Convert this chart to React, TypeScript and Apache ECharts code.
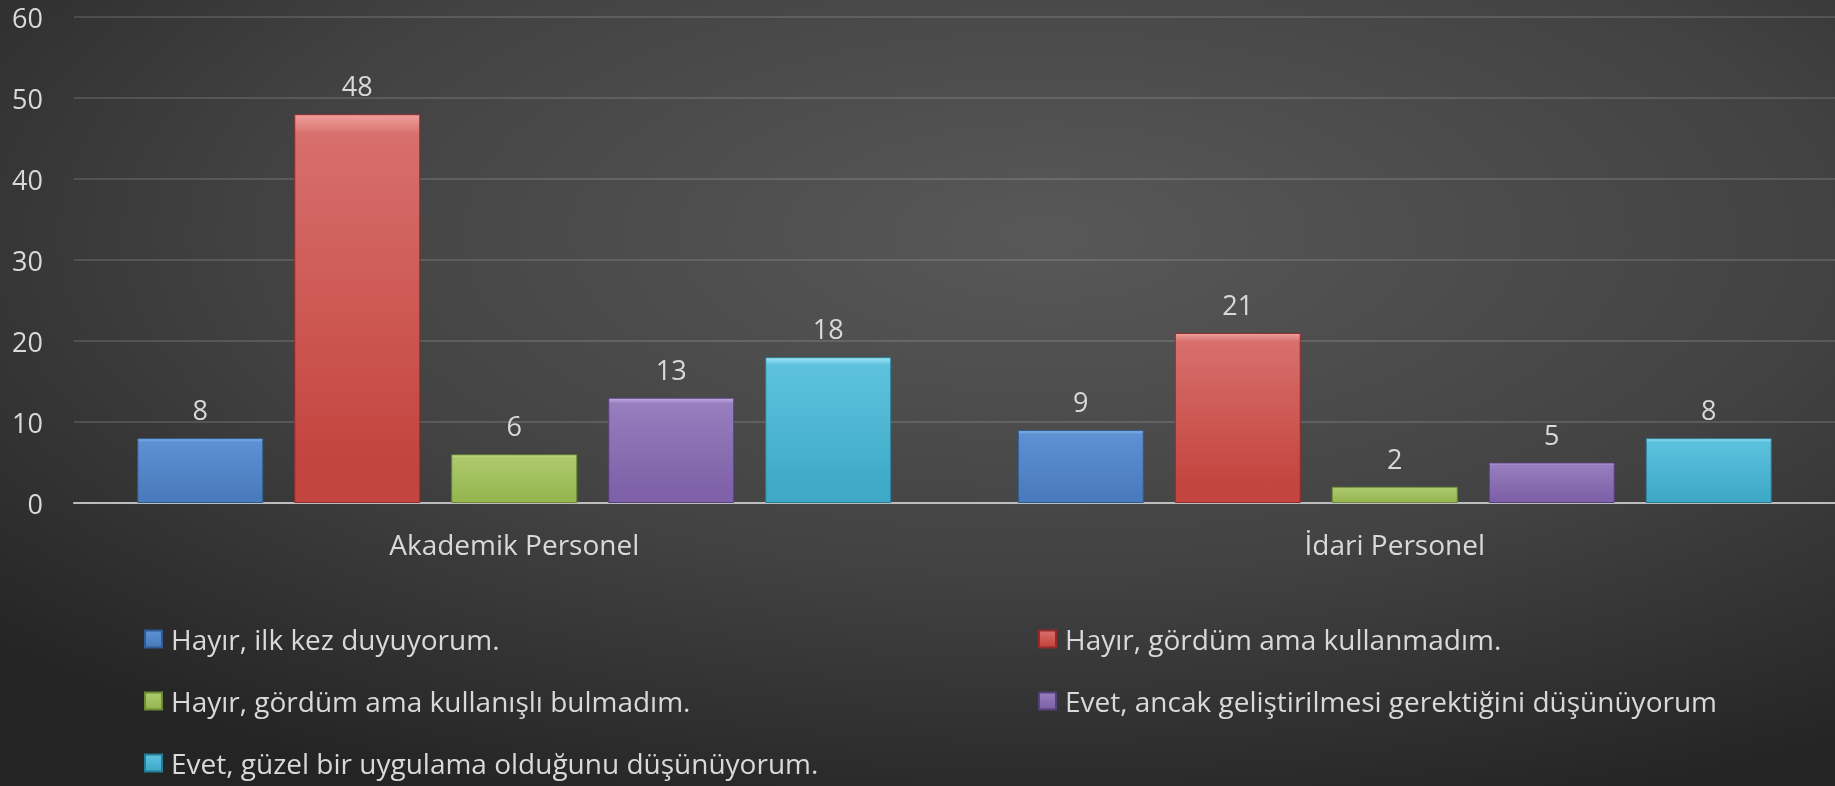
import React, { useEffect, useRef } from "react";
import * as echarts from "echarts";

const categories = ["Akademik Personel", "İdari Personel"];
const seriesNames = [
  "Hayır, ilk kez duyuyorum.",
  "Hayır, gördüm ama kullanmadım.",
  "Hayır, gördüm ama kullanışlı bulmadım.",
  "Evet, ancak geliştirilmesi gerektiğini düşünüyorum",
  "Evet, güzel bir uygulama olduğunu düşünüyorum.",
];
const hayirIlk = [8, 9];
const hayirKullanmadim = [48, 21];
const hayirKullanissiz = [6, 2];
const evetGelistirilmeli = [13, 5];
const evetGuzel = [18, 8];
const seriesValues = [hayirIlk, hayirKullanmadim, hayirKullanissiz, evetGelistirilmeli, evetGuzel];
const yTicks = [0, 10, 20, 30, 40, 50, 60];

const palettes = [
  ["#8cb6ec", "#5d91d3", "#4a7bbd", "#2f5a92"],
  ["#f0a09c", "#d76f6c", "#c4443f", "#8e2d2b"],
  ["#d3ea98", "#acca6c", "#97b752", "#6d8a36"],
  ["#c7aee6", "#977ebe", "#7e61a8", "#55407a"],
  ["#a2e6f6", "#5ec2de", "#3eaac8", "#267c95"],
];

const FONT = "'Open Sans', 'Noto Sans', sans-serif";
const TEXT = "#d9d9d9";

export default function App() {
  const ref = useRef<HTMLDivElement>(null);
  useEffect(() => {
    if (!ref.current) return;
    const chart = echarts.init(ref.current, null, { renderer: "svg" });
    const W = 1835;
    const H = 786;
    const option: any = {
      animation: false,
      textStyle: { fontFamily: FONT },
      graphic: [
        {
          type: "rect",
          z: -10,
          silent: true,
          shape: { x: 0, y: 0, width: W, height: H },
          style: {
            fill: new echarts.graphic.RadialGradient(0.57, 0.3, 0.78, [
              { offset: 0, color: "#585858" },
              { offset: 0.55, color: "#424242" },
              { offset: 1, color: "#242424" },
            ]),
          },
        },
      ],
      grid: { left: 74, right: 0, top: 17, bottom: 283, containLabel: false },
      legend: {
        left: 139,
        top: 618,
        width: 1800,
        orient: "horizontal",
        icon: "rect",
        itemWidth: 17,
        itemHeight: 17,
        itemGap: 30,
        selectedMode: false,
        textStyle: {
          color: TEXT,
          fontSize: 28,
          fontFamily: FONT,
          width: 837,
          lineHeight: 32,
          padding: [0, 0, 0, 4],
        },
        data: seriesNames,
      },
      xAxis: {
        type: "category",
        data: categories,
        axisLine: { show: true, lineStyle: { color: "#bdbdbd", width: 2 } },
        axisTick: { show: false },
        axisLabel: { color: TEXT, fontSize: 28, fontFamily: FONT, margin: 27 },
        splitLine: { show: false },
      },
      yAxis: {
        type: "value",
        min: yTicks[0],
        max: yTicks[yTicks.length - 1],
        interval: 10,
        axisLine: { show: false },
        axisTick: { show: false },
        axisLabel: { color: TEXT, fontSize: 27, fontFamily: FONT, margin: 31 },
        splitLine: { lineStyle: { color: "rgba(255,255,255,0.13)", width: 2 } },
      },
      series: seriesNames.map((name, i) => ({
        name,
        type: "bar",
        data: seriesValues[i],
        barWidth: 126,
        barGap: "24.6%",
        itemStyle: {
          color: new echarts.graphic.LinearGradient(0, 0, 0, 1, [
            { offset: 0, color: palettes[i][0] },
            { offset: 0.05, color: palettes[i][1] },
            { offset: 0.9, color: palettes[i][2] },
            { offset: 1, color: palettes[i][2] },
          ]),
          borderColor: palettes[i][3],
          borderWidth: 1,
        },
        label: {
          show: true,
          position: "top",
          distance: 15,
          color: TEXT,
          fontSize: 27,
          fontFamily: FONT,
        },
      })),
    };
    chart.setOption(option);
    return () => chart.dispose();
  }, []);
  return (
    <div
      ref={ref}
      style={{ position: "fixed", left: 0, top: 0, width: 1835, height: 786 }}
    />
  );
}
